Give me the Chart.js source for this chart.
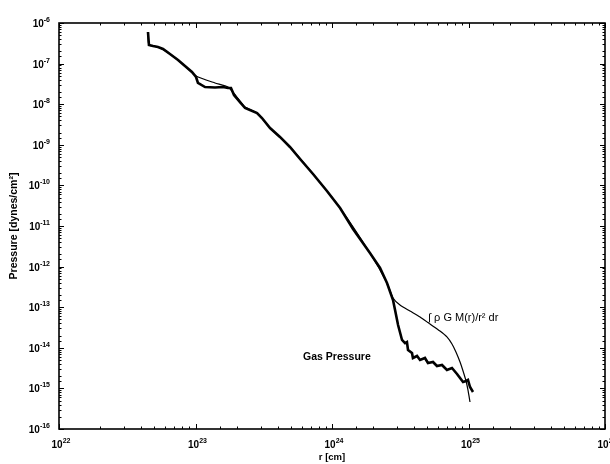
<!DOCTYPE html>
<html>
<head>
<meta charset="utf-8">
<title>Pressure profile</title>
<script src="https://cdn.jsdelivr.net/npm/chart.js@4.4.1/dist/chart.umd.min.js"></script>
<style>
  html, body { margin: 0; padding: 0; background: #fff; overflow: hidden; }
  canvas { display: block; }
</style>
</head>
<body>
<canvas id="pressureChart" width="610" height="464"></canvas>
<script>
// gas pressure vs radius
const gasR = [4.487e22, 4.560e22, 4.887e22, 5.309e22, 5.781e22, 6.501e22, 7.447e22, 8.375e22, 9.419e22,
  1.009e23, 1.042e23, 1.175e23, 1.390e23, 1.589e23, 1.730e23, 1.820e23, 1.914e23, 2.118e23, 2.307e23,
  2.506e23, 2.825e23, 3.069e23, 3.516e23, 4.159e23, 4.920e23, 5.834e23, 7.261e23, 9.183e23,
  1.146e24, 1.426e24, 1.897e24, 2.249e24, 2.529e24, 2.799e24, 2.897e24, 3.048e24, 3.258e24, 3.428e24,
  3.540e24, 3.606e24, 3.855e24, 3.917e24, 4.198e24, 4.416e24, 4.797e24, 5.047e24, 5.495e24, 5.875e24,
  6.397e24, 6.950e24, 7.568e24, 8.241e24, 8.670e24, 9.120e24, 9.594e24, 9.908e24, 1.026e25, 1.079e25];
const gasP = [6.00e-7, 2.87e-7, 2.71e-7, 2.56e-7, 2.29e-7, 1.72e-7, 1.23e-7, 8.73e-8, 6.21e-8,
  4.68e-8, 3.33e-8, 2.65e-8, 2.58e-8, 2.65e-8, 2.51e-8, 2.51e-8, 1.69e-8, 1.13e-8, 8.05e-9,
  7.19e-9, 6.07e-9, 4.57e-9, 2.59e-9, 1.56e-9, 8.83e-10, 4.47e-10, 1.91e-10, 7.28e-11,
  2.77e-11, 8.43e-12, 2.16e-12, 9.25e-13, 3.94e-13, 1.50e-13, 8.53e-14, 3.65e-14, 1.56e-14, 1.31e-14,
  1.39e-14, 8.83e-15, 7.45e-15, 5.61e-15, 6.28e-15, 5.01e-15, 5.61e-15, 4.23e-15, 4.47e-15, 3.56e-15,
  3.77e-15, 2.84e-15, 3.18e-15, 2.26e-15, 1.80e-15, 1.44e-15, 1.52e-15, 1.61e-15, 1.08e-15, 8.15e-16];

// integral of rho G M(r)/r^2 dr
const intR = [4.487e22, 4.560e22, 5.309e22, 6.501e22, 8.375e22, 1.009e23, 1.390e23, 1.730e23, 1.982e23,
  2.307e23, 2.825e23, 3.516e23, 4.920e23, 7.261e23, 1.146e24, 1.897e24, 2.529e24, 2.799e24, 3.148e24,
  3.724e24, 4.416e24, 5.224e24, 6.180e24, 6.950e24, 7.568e24, 8.091e24, 8.670e24, 9.120e24, 9.594e24,
  9.908e24, 1.026e25];
const intP = [6.00e-7, 2.87e-7, 2.56e-7, 1.72e-7, 8.73e-8, 4.95e-8, 3.33e-8, 2.65e-8, 1.59e-8,
  8.53e-9, 6.07e-9, 2.59e-9, 8.83e-10, 1.91e-10, 2.77e-11, 2.16e-12, 3.94e-13, 1.69e-13, 1.13e-13,
  8.05e-14, 5.74e-14, 3.85e-14, 2.59e-14, 1.85e-14, 1.24e-14, 7.89e-15, 4.47e-15, 2.69e-15, 1.52e-15,
  9.15e-16, 4.62e-16];

const xTickExp = ['22', '23', '24', '25', '26'];
const yTickExp = ['-6', '-7', '-8', '-9', '-10', '-11', '-12', '-13', '-14', '-15', '-16'];

const LABEL_FONT = '"Liberation Sans", Arial, sans-serif';

const notes = [
  { text: 'Gas Pressure', r: 6.14e23, p: 5.93e-15, font: 'bold 10.5px ' + LABEL_FONT },
  { text: '\u222B \u03C1 G M(r)/r\u00B2 dr', r: 5.05e24, p: 5.42e-14, font: '11px ' + LABEL_FONT }
];

const toPoints = (xs, ys) => xs.map((v, i) => ({ x: v, y: ys[i] }));
const isDecade = v => Math.abs(Math.log10(v) - Math.round(Math.log10(v))) < 1e-6;

function drawPower(ctx, exp, x, y, align) {
  ctx.font = 'bold 10px ' + LABEL_FONT;
  const wb = ctx.measureText('10').width;
  ctx.font = 'bold 7px ' + LABEL_FONT;
  const we = ctx.measureText(exp).width;
  const total = wb + we;
  const left = align === 'right' ? x - total : x - total / 2;
  ctx.textAlign = 'left';
  ctx.textBaseline = 'alphabetic';
  ctx.font = 'bold 10px ' + LABEL_FONT;
  ctx.fillText('10', left, y);
  ctx.font = 'bold 7px ' + LABEL_FONT;
  ctx.fillText(exp, left + wb, y - 5);
}

const axisFrame = {
  id: 'axisFrame',
  afterDraw(chart) {
    const { ctx, chartArea: a, scales: { x, y } } = chart;
    ctx.save();
    ctx.strokeStyle = '#000';
    ctx.fillStyle = '#000';

    // inward ticks on all four sides
    ctx.lineWidth = 1;
    ctx.beginPath();
    x.ticks.forEach(t => {
      const px = Math.round(x.getPixelForValue(t.value)) + 0.5;
      const len = isDecade(t.value) ? 5 : 2.5;
      ctx.moveTo(px, a.bottom); ctx.lineTo(px, a.bottom - len);
      ctx.moveTo(px, a.top); ctx.lineTo(px, a.top + len);
    });
    y.ticks.forEach(t => {
      const py = Math.round(y.getPixelForValue(t.value)) + 0.5;
      const len = isDecade(t.value) ? 5 : 2.5;
      ctx.moveTo(a.left, py); ctx.lineTo(a.left + len, py);
      ctx.moveTo(a.right, py); ctx.lineTo(a.right - len, py);
    });
    ctx.stroke();

    ctx.lineWidth = 1.6;
    ctx.strokeRect(a.left, a.top, a.right - a.left, a.bottom - a.top);

    // decade labels
    xTickExp.forEach(e => {
      const px = x.getPixelForValue(Math.pow(10, Number(e)));
      drawPower(ctx, e, px + 2, a.bottom + 19, 'center');
    });
    yTickExp.forEach(e => {
      const py = y.getPixelForValue(Math.pow(10, Number(e)));
      drawPower(ctx, e, a.left - 9, py + 4, 'right');
    });

    // axis titles
    ctx.textAlign = 'center';
    ctx.textBaseline = 'middle';
    ctx.font = 'bold 9.5px ' + LABEL_FONT;
    ctx.fillText('r [cm]', (a.left + a.right) / 2, a.bottom + 28);
    ctx.save();
    ctx.translate(14, (a.top + a.bottom) / 2);
    ctx.rotate(-Math.PI / 2);
    ctx.font = 'bold 10.5px ' + LABEL_FONT;
    ctx.fillText('Pressure [dynes/cm\u00B2]', 0, 0);
    ctx.restore();

    // curve annotations
    ctx.textAlign = 'left';
    notes.forEach(n => {
      ctx.font = n.font;
      ctx.fillText(n.text, x.getPixelForValue(n.r), y.getPixelForValue(n.p));
    });
    ctx.restore();
  }
};

new Chart(document.getElementById('pressureChart'), {
  type: 'scatter',
  data: {
    datasets: [
      {
        label: 'Integral',
        data: toPoints(intR, intP),
        showLine: true,
        borderColor: '#000',
        borderWidth: 1.2,
        pointRadius: 0,
        tension: 0.2,
        order: 0
      },
      {
        label: 'Gas Pressure',
        data: toPoints(gasR, gasP),
        showLine: true,
        borderColor: '#000',
        borderWidth: 2.6,
        pointRadius: 0,
        tension: 0,
        order: 1
      }
    ]
  },
  options: {
    responsive: false,
    animation: false,
    events: [],
    layout: { padding: { top: 23, right: 5, left: 0, bottom: 0 } },
    plugins: { legend: { display: false }, tooltip: { enabled: false } },
    scales: {
      x: {
        type: 'logarithmic',
        min: 1e22,
        max: 1e26,
        grid: { display: false },
        border: { display: false },
        ticks: { display: false },
        afterFit(scale) { scale.height = 35; scale.paddingLeft = 0; scale.paddingRight = 0; }
      },
      y: {
        type: 'logarithmic',
        min: 1e-16,
        max: 1e-6,
        grid: { display: false },
        border: { display: false },
        ticks: { display: false },
        afterFit(scale) { scale.width = 59; scale.paddingTop = 0; scale.paddingBottom = 0; }
      }
    }
  },
  plugins: [axisFrame]
});
</script>
</body>
</html>
